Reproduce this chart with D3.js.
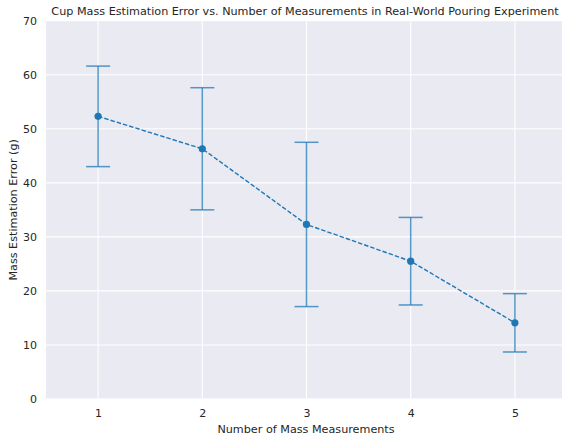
<!DOCTYPE html>
<html>
<head>
<meta charset="utf-8">
<script src="https://cdn.jsdelivr.net/npm/d3@7"></script>
<style>
	body { margin: 0; background: #fff; }
	svg { display: block; font-family: "DejaVu Sans", sans-serif; }
</style>
</head>
<body>
<div id="chart"></div>
<script>
// data
var measurements = [1, 2, 3, 4, 5];
var meanError = [52.3, 46.3, 32.3, 25.5, 14.1];
var stdError = [9.3, 11.3, 15.2, 8.1, 5.4];
var yTicks = [0, 10, 20, 30, 40, 50, 60, 70];

var width = 562;
var height = 438;
var margin = {top: 20.7, right: -5, bottom: 39, left: 46};

var svg = d3.select("#chart").append("svg")
	.attr("width", width)
	.attr("height", height);

// plot area runs slightly past the right edge (cut off like the original)
var x = d3.scaleLinear().domain([0.5, 5.5]).range([margin.left, width - margin.right]);
var y = d3.scaleLinear().domain([0, 70]).range([height - margin.bottom, margin.top]);

var blue = "#1f77b4";
var textColor = "#262626";

// background
svg.append("rect")
	.attr("x", x(0.5))
	.attr("y", y(70))
	.attr("width", x(5.5) - x(0.5))
	.attr("height", y(0) - y(70))
	.attr("fill", "#eaeaf2");

// grid
svg.append("g").selectAll("line")
	.data(yTicks)
	.enter().append("line")
	.attr("x1", x(0.5)).attr("x2", x(5.5))
	.attr("y1", function (d) { return y(d); })
	.attr("y2", function (d) { return y(d); })
	.attr("stroke", "#fff").attr("stroke-width", 1.1);

svg.append("g").selectAll("line")
	.data(measurements)
	.enter().append("line")
	.attr("x1", function (d) { return x(d); })
	.attr("x2", function (d) { return x(d); })
	.attr("y1", y(0)).attr("y2", y(70))
	.attr("stroke", "#fff").attr("stroke-width", 1.1);

// axes
var yAxis = svg.append("g")
	.attr("transform", "translate(" + (margin.left - 9) + ",0)")
	.call(d3.axisLeft(y).tickValues(yTicks).tickFormat(d3.format("d")).tickSize(0).tickPadding(0));
var xAxis = svg.append("g")
	.attr("transform", "translate(0," + (y(0) + 10) + ")")
	.call(d3.axisBottom(x).tickValues(measurements).tickFormat(d3.format("d")).tickSize(0).tickPadding(0));
[xAxis, yAxis].forEach(function (a) {
	a.select(".domain").remove();
	a.selectAll("text").attr("fill", textColor).attr("font-size", "11px")
		.attr("font-family", "DejaVu Sans, sans-serif");
});

// error bars
var bars = svg.append("g").attr("stroke", blue).attr("stroke-opacity", 0.75).attr("stroke-width", 1.5);
measurements.forEach(function (m, i) {
	var lo = meanError[i] - stdError[i];
	var hi = meanError[i] + stdError[i];
	bars.append("line")
		.attr("x1", x(m)).attr("x2", x(m))
		.attr("y1", y(lo)).attr("y2", y(hi));
	[lo, hi].forEach(function (v) {
		bars.append("line")
			.attr("x1", x(m) - 12).attr("x2", x(m) + 12)
			.attr("y1", y(v)).attr("y2", y(v));
	});
});

// dashed mean line
var line = d3.line()
	.x(function (d, i) { return x(measurements[i]); })
	.y(function (d) { return y(d); });

svg.append("path")
	.attr("d", line(meanError))
	.attr("fill", "none")
	.attr("stroke", blue)
	.attr("stroke-width", 1.4)
	.attr("stroke-dasharray", "4.5,2");

svg.append("g").selectAll("circle")
	.data(meanError)
	.enter().append("circle")
	.attr("cx", function (d, i) { return x(measurements[i]); })
	.attr("cy", function (d) { return y(d); })
	.attr("r", 3.6)
	.attr("fill", blue);

// labels
svg.append("text")
	.attr("x", 305)
	.attr("y", 15)
	.attr("text-anchor", "middle")
	.attr("font-size", "11.2px")
	.attr("fill", textColor)
	.text("Cup Mass Estimation Error vs. Number of Measurements in Real-World Pouring Experiment");

svg.append("text")
	.attr("x", 306)
	.attr("y", 433)
	.attr("text-anchor", "middle")
	.attr("font-size", "11.2px")
	.attr("fill", textColor)
	.text("Number of Mass Measurements");

svg.append("text")
	.attr("transform", "translate(17," + ((y(0) + y(70)) / 2) + ") rotate(-90)")
	.attr("text-anchor", "middle")
	.attr("font-size", "11.2px")
	.attr("fill", textColor)
	.text("Mass Estimation Error (g)");
</script>
</body>
</html>
